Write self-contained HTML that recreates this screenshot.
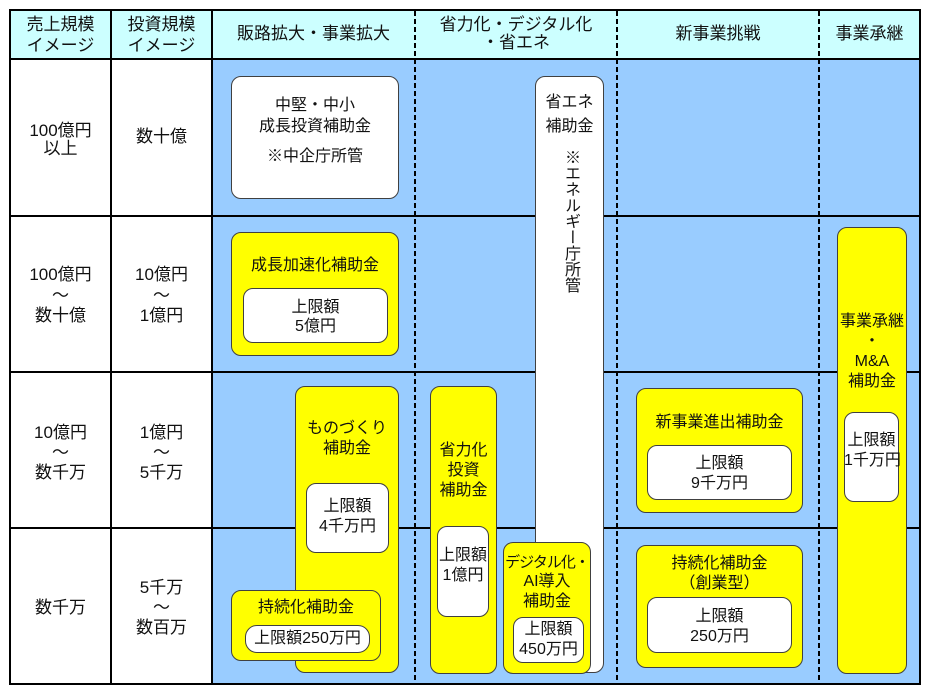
<!DOCTYPE html>
<html><head><meta charset="utf-8">
<style>
html,body{margin:0;padding:0;}
body{width:930px;height:695px;position:relative;overflow:hidden;background:#fff;font-family:"Liberation Sans","Noto Sans CJK JP",sans-serif;color:#111;}
.a{position:absolute;}
.b{position:absolute;box-sizing:border-box;border:1px solid #404040;border-radius:10px;}
.y{background:#ffff00;}
.w{background:#fff;}
.t{position:absolute;text-align:center;white-space:nowrap;font-size:16px;line-height:20px;height:20px;}
.h{font-size:17px;}
.v{position:absolute;writing-mode:vertical-rl;font-size:16px;line-height:20px;width:20px;white-space:nowrap;}
</style></head><body>
<div class="a" style="left:10px;top:10px;width:911px;height:49px;background:#ccffff"></div>
<div class="a" style="left:212px;top:59px;width:709px;height:626px;background:#99ccff"></div>
<svg class="a" style="left:0;top:0" width="930" height="695">
<g stroke="#000" stroke-width="2" fill="none">
<rect x="10" y="10" width="910" height="674"/>
<line x1="111" y1="10" x2="111" y2="684"/>
<line x1="212" y1="10" x2="212" y2="684"/>
<line x1="10" y1="59" x2="920" y2="59"/>
<line x1="10" y1="216" x2="920" y2="216"/>
<line x1="10" y1="372" x2="920" y2="372"/>
<line x1="10" y1="528" x2="920" y2="528"/>
<line x1="415" y1="11" x2="415" y2="684" stroke-dasharray="5 3"/>
<line x1="617" y1="11" x2="617" y2="684" stroke-dasharray="5 3"/>
<line x1="819" y1="11" x2="819" y2="684" stroke-dasharray="5 3"/>
</g>
</svg>

<!-- headers -->
<div class="t h" style="left:10px;width:101px;top:15px">売上規模</div>
<div class="t h" style="left:10px;width:101px;top:36px">イメージ</div>
<div class="t h" style="left:111px;width:101px;top:15px">投資規模</div>
<div class="t h" style="left:111px;width:101px;top:36px">イメージ</div>
<div class="t h" style="left:212px;width:203px;top:24px">販路拡大・事業拡大</div>
<div class="t h" style="left:415px;width:202px;top:15px">省力化・デジタル化</div>
<div class="t h" style="left:415px;width:202px;top:33px">・省エネ</div>
<div class="t h" style="left:617px;width:202px;top:24px">新事業挑戦</div>
<div class="t h" style="left:819px;width:101px;top:24px">事業承継</div>

<!-- row labels -->
<div class="t h" style="left:10px;width:101px;top:121px">100億円</div>
<div class="t h" style="left:10px;width:101px;top:139px">以上</div>
<div class="t h" style="left:111px;width:101px;top:127px">数十億</div>

<div class="t h" style="left:10px;width:101px;top:265px">100億円</div>
<div class="t h" style="left:10px;width:101px;top:286px">～</div>
<div class="t h" style="left:10px;width:101px;top:306px">数十億</div>
<div class="t h" style="left:111px;width:101px;top:265px">10億円</div>
<div class="t h" style="left:111px;width:101px;top:286px">～</div>
<div class="t h" style="left:111px;width:101px;top:306px">1億円</div>

<div class="t h" style="left:10px;width:101px;top:423px">10億円</div>
<div class="t h" style="left:10px;width:101px;top:443px">～</div>
<div class="t h" style="left:10px;width:101px;top:463px">数千万</div>
<div class="t h" style="left:111px;width:101px;top:423px">1億円</div>
<div class="t h" style="left:111px;width:101px;top:443px">～</div>
<div class="t h" style="left:111px;width:101px;top:463px">5千万</div>

<div class="t h" style="left:10px;width:101px;top:598px">数千万</div>
<div class="t h" style="left:111px;width:101px;top:578px">5千万</div>
<div class="t h" style="left:111px;width:101px;top:598px">～</div>
<div class="t h" style="left:111px;width:101px;top:618px">数百万</div>

<!-- 中堅・中小 -->
<div class="b w" style="left:231px;top:76px;width:168px;height:123px"></div>
<div class="t" style="left:231px;width:168px;top:96px">中堅・中小</div>
<div class="t" style="left:231px;width:168px;top:117px">成長投資補助金</div>
<div class="t" style="left:231px;width:168px;top:147px">※中企庁所管</div>

<!-- 成長加速化 -->
<div class="b y" style="left:231px;top:232px;width:168px;height:124px"></div>
<div class="t" style="left:231px;width:168px;top:256px">成長加速化補助金</div>
<div class="b w" style="left:243px;top:288px;width:145px;height:55px"></div>
<div class="t" style="left:243px;width:145px;top:298px">上限額</div>
<div class="t" style="left:243px;width:145px;top:317px">5億円</div>

<!-- ものづくり -->
<div class="b y" style="left:295px;top:386px;width:104px;height:287px"></div>
<div class="t" style="left:295px;width:104px;top:419px">ものづくり</div>
<div class="t" style="left:295px;width:104px;top:439px">補助金</div>
<div class="b w" style="left:306px;top:483px;width:83px;height:70px"></div>
<div class="t" style="left:306px;width:83px;top:497px">上限額</div>
<div class="t" style="left:306px;width:83px;top:517px">4千万円</div>

<!-- 持続化 -->
<div class="b y" style="left:231px;top:590px;width:150px;height:71px"></div>
<div class="t" style="left:231px;width:150px;top:598px">持続化補助金</div>
<div class="b w" style="left:245px;top:625px;width:125px;height:28px;border-radius:12px"></div>
<div class="t" style="left:245px;width:125px;top:629px">上限額250万円</div>

<!-- 省力化投資 -->
<div class="b y" style="left:430px;top:386px;width:67px;height:288px"></div>
<div class="t" style="left:430px;width:67px;top:441px">省力化</div>
<div class="t" style="left:430px;width:67px;top:461px">投資</div>
<div class="t" style="left:430px;width:67px;top:481px">補助金</div>
<div class="b w" style="left:437px;top:526px;width:52px;height:91px"></div>
<div class="t" style="left:437px;width:52px;top:546px">上限額</div>
<div class="t" style="left:437px;width:52px;top:566px">1億円</div>

<!-- 省エネ -->
<div class="b w" style="left:535px;top:76px;width:69px;height:597px"></div>
<div class="t" style="left:535px;width:69px;top:93px">省エネ</div>
<div class="t" style="left:535px;width:69px;top:117px">補助金</div>
<div class="v" style="left:560px;top:149px">※エネルギー庁所管</div>

<!-- デジタル化 -->
<div class="b y" style="left:503px;top:542px;width:88px;height:132px"></div>
<div class="t" style="left:503px;width:88px;top:553px;font-size:15px;letter-spacing:-1px">デジタル化・</div>
<div class="t" style="left:503px;width:88px;top:572px">AI導入</div>
<div class="t" style="left:503px;width:88px;top:592px">補助金</div>
<div class="b w" style="left:513px;top:617px;width:71px;height:46px"></div>
<div class="t" style="left:513px;width:71px;top:620px">上限額</div>
<div class="t" style="left:513px;width:71px;top:640px">450万円</div>

<!-- 新事業進出 -->
<div class="b y" style="left:636px;top:388px;width:167px;height:125px"></div>
<div class="t" style="left:636px;width:167px;top:413px">新事業進出補助金</div>
<div class="b w" style="left:647px;top:445px;width:145px;height:55px"></div>
<div class="t" style="left:647px;width:145px;top:454px">上限額</div>
<div class="t" style="left:647px;width:145px;top:474px">9千万円</div>

<!-- 持続化(創業型) -->
<div class="b y" style="left:636px;top:545px;width:167px;height:123px"></div>
<div class="t" style="left:636px;width:167px;top:554px">持続化補助金</div>
<div class="t" style="left:636px;width:167px;top:574px">（創業型）</div>
<div class="b w" style="left:647px;top:597px;width:145px;height:56px"></div>
<div class="t" style="left:647px;width:145px;top:607px">上限額</div>
<div class="t" style="left:647px;width:145px;top:627px">250万円</div>

<!-- 事業承継 -->
<div class="b y" style="left:837px;top:227px;width:70px;height:447px"></div>
<div class="t" style="left:837px;width:70px;top:312px">事業承継</div>
<div class="t" style="left:837px;width:70px;top:332px">・</div>
<div class="t" style="left:837px;width:70px;top:352px">M&amp;A</div>
<div class="t" style="left:837px;width:70px;top:372px">補助金</div>
<div class="b w" style="left:844px;top:412px;width:55px;height:90px"></div>
<div class="t" style="left:844px;width:55px;top:431px">上限額</div>
<div class="t" style="left:844px;width:55px;top:451px">1千万円</div>
</body></html>
